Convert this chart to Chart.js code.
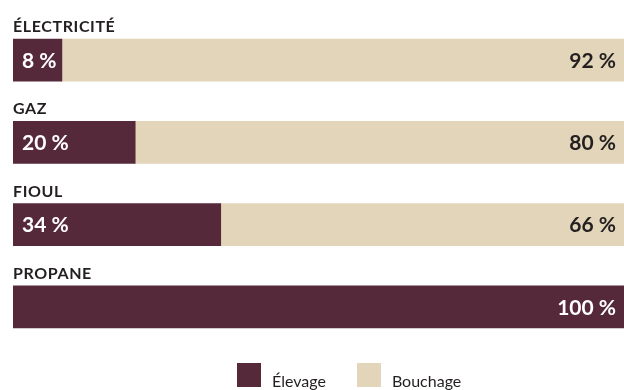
<!DOCTYPE html>
<html>
<head>
<meta charset="utf-8">
<script src="https://cdn.jsdelivr.net/npm/chart.js@4/dist/chart.umd.min.js"></script>
<style>
  html, body { margin: 0; padding: 0; background: #fff; }
  #wrap { position: relative; width: 624px; height: 390px; }
  #legend { position: absolute; left: 237px; top: 363px; display: flex; font-family: Lato, sans-serif; font-size: 16px; color: #231f20; }
  #legend .item { display: flex; align-items: flex-end; margin-right: 31px; }
  #legend .box { width: 24px; height: 24px; margin-right: 11px; }
  #legend .txt { line-height: 16px; position: relative; top: 2px; }
</style>
</head>
<body>
<div id="wrap">
  <canvas id="energyChart" width="624" height="390"></canvas>
  <div id="legend"></div>
</div>
<script>
const categories = ['ÉLECTRICITÉ', 'GAZ', 'FIOUL', 'PROPANE'];
const elevage = [8, 20, 34, 100];
const bouchage = [92, 80, 66, 0];
const seriesNames = ['Élevage', 'Bouchage'];

const maroon = '#55283a';
const beige = '#e2d5b9';
const ink = '#231f20';

// category titles above bars + percentage labels inside bars
const labelPlugin = {
    id: 'barLabels',
    afterDatasetsDraw(chart) {
        const ctx = chart.ctx;
        const metaA = chart.getDatasetMeta(0);
        const metaB = chart.getDatasetMeta(1);
        ctx.save();
        categories.forEach(function(cat, i) {
            const a = metaA.data[i];
            const b = metaB.data[i];
            const top = a.y - a.height / 2;
            ctx.fillStyle = ink;
            ctx.font = 'bold 16px Lato, sans-serif';
            ctx.letterSpacing = '0.6px';
            ctx.textAlign = 'left';
            ctx.textBaseline = 'alphabetic';
            ctx.fillText(cat, chart.chartArea.left, top - 7);
            ctx.letterSpacing = '0px';

            ctx.font = 'bold 21px Lato, sans-serif';
            ctx.textBaseline = 'middle';
            if (bouchage[i] > 0) {
                ctx.fillStyle = '#fff';
                ctx.textAlign = 'left';
                ctx.fillText(elevage[i] + ' %', Math.min(a.base, a.x) + 9, a.y + 1);
                ctx.fillStyle = ink;
                ctx.textAlign = 'right';
                ctx.fillText(bouchage[i] + ' %', b.x - 8, b.y + 1);
            } else {
                ctx.fillStyle = '#fff';
                ctx.textAlign = 'right';
                ctx.fillText(elevage[i] + ' %', a.x - 8, a.y + 1);
            }
        });
        ctx.restore();
    }
};

const chart = new Chart(document.getElementById('energyChart').getContext('2d'), {
    type: 'bar',
    data: {
        labels: categories,
        datasets: [
            { label: seriesNames[0], data: elevage, backgroundColor: maroon, barThickness: 42 },
            { label: seriesNames[1], data: bouchage, backgroundColor: beige, barThickness: 42 }
        ]
    },
    options: {
        indexAxis: 'y',
        responsive: false,
        animation: false,
        layout: { padding: { top: 19, bottom: 42, left: 13, right: 0 } },
        plugins: { legend: { display: false }, tooltip: { enabled: false } },
        scales: {
            x: { stacked: true, min: 0, max: 100, display: false },
            y: { stacked: true, display: false }
        }
    },
    plugins: [labelPlugin]
});

// simple html legend from the chart datasets
const legendEl = document.getElementById('legend');
chart.data.datasets.forEach(function(ds) {
    const item = document.createElement('div');
    item.className = 'item';
    item.innerHTML = '<span class="box" style="background:' + ds.backgroundColor + '"></span><span class="txt">' + ds.label + '</span>';
    legendEl.appendChild(item);
});
</script>
</body>
</html>
